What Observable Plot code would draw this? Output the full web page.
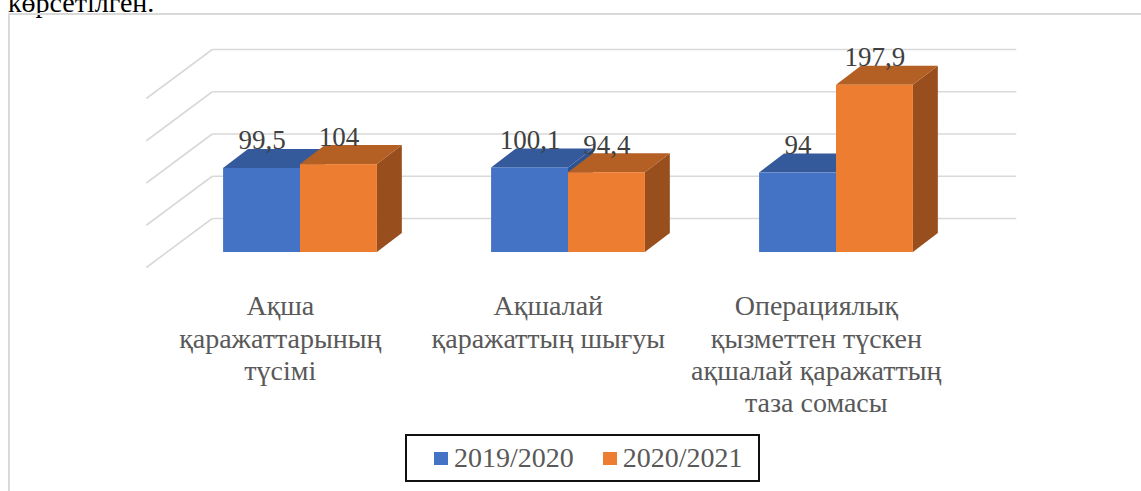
<!DOCTYPE html>
<html>
<head>
<meta charset="utf-8">
<script src="https://cdn.jsdelivr.net/npm/d3@7"></script>
<script src="https://cdn.jsdelivr.net/npm/@observablehq/plot@0.6"></script>
<style>
html, body { margin: 0; padding: 0; width: 1141px; height: 491px; overflow: hidden; background: #fff; }
#page { position: relative; width: 1141px; height: 491px; overflow: hidden; }
#prev { position: absolute; left: 8px; top: -11px; font: 28px/28px "Liberation Serif", serif; color: #000; white-space: nowrap; }
#frame { position: absolute; left: 8px; top: 13px; width: 1200px; height: 600px; border: 2px solid #d9d9d9; }
#chart { position: absolute; left: 0; top: 0; }
#chart svg text { font-family: "Liberation Serif", serif; }
#legend { position: absolute; left: 405px; top: 434px; box-sizing: border-box; width: 355px; height: 48px;
  border: 2px solid #111; display: flex; align-items: center; padding-left: 27px;
  font: 28px "Liberation Serif", serif; color: #595959; background: #fff; }
#legend .sw { width: 14px; height: 13px; margin-right: 6px; flex: none; }
#legend .lab { margin-right: 29px; white-space: nowrap; }
</style>
</head>
<body>
<div id="page">
  <div id="prev">көрсетілген.</div>
  <div id="frame"></div>
  <div id="chart"></div>
  <div id="legend"></div>
</div>
<script>
// ---- data ----
const categories = [
  "Ақша\nқаражаттарының\nтүсімі",
  "Ақшалай\nқаражаттың шығуы",
  "Операциялық\nқызметтен түскен\nақшалай қаражаттың\nтаза сомасы"
];
const series = ["2019/2020", "2020/2021"];
const values2019 = [99.5, 100.1, 94];
const values2020 = [104, 94.4, 197.9];
const gridTicks = [0, 50, 100, 150, 200];

// ---- styles / geometry (not data) ----
const SERIF = "'Liberation Serif', serif";
const frontColors = ["#4472C4", "#ED7D31"];
const topColors = ["#345a9c", "#b45f23"];
const sideColors = ["#2f5391", "#984e1d"];
const BAR_W = 0.287;            // bar width in category units
const DX = 0.246, DY = 58;      // full floor depth, in x / value units
const BACK = 0.694, FRONT = -0.306; // back wall and floor front relative to bar front plane
const BAR_DX = 0.093, BAR_DY = 22.5; // bar depth

const fmt = v => String(v).replace(".", ",");
const seriesValues = [values2019, values2020];

const bars = categories.flatMap((c, i) => series.map((s, j) => ({
  key: i + "-" + j, i, j, s, v: seriesValues[j][i],
  x1: i + (j - 1) * BAR_W, x2: i + j * BAR_W
})));

function topFace(b) {
  return [
    {k: b.key, x1: b.x1, y1: b.v, x2: b.x1 + BAR_DX, y2: b.v + BAR_DY},
    {k: b.key, x1: b.x2, y1: b.v, x2: b.x2 + BAR_DX, y2: b.v + BAR_DY}
  ];
}
function sideFace(b) {
  return [
    {k: b.key, x1: b.x2, y1: 0, x2: b.x2, y2: b.v},
    {k: b.key, x1: b.x2 + BAR_DX, y1: BAR_DY, x2: b.x2 + BAR_DX, y2: b.v + BAR_DY}
  ];
}

const gridRows = gridTicks.map(v => ({v}));

const barMarks = series.flatMap((s, j) => {
  const bs = bars.filter(b => b.j === j);
  return [
    Plot.area(bs.flatMap(sideFace), {x1: "x1", y1: "y1", x2: "x2", y2: "y2", z: "k", fill: sideColors[j]}),
    Plot.area(bs.flatMap(topFace), {x1: "x1", y1: "y1", x2: "x2", y2: "y2", z: "k", fill: topColors[j]}),
    Plot.rect(bs, {x1: "x1", x2: "x2", y1: () => 0, y2: "v", fill: frontColors[j], inset: 0})
  ];
});

const chart = Plot.plot({
  width: 1141,
  height: 430,
  marginLeft: 166,
  marginRight: 171,
  marginTop: 83,
  marginBottom: 178,
  x: {domain: [-0.5, 2.5], axis: null},
  y: {domain: [0, 200], axis: null},
  style: {fontFamily: SERIF, background: "transparent", overflow: "visible"},
  marks: [
    // back wall gridlines
    Plot.link(gridRows, {
      x1: () => -0.5 + BACK * DX, x2: () => 2.5 + BACK * DX,
      y1: d => d.v + BACK * DY, y2: d => d.v + BACK * DY,
      stroke: "#d9d9d9", strokeWidth: 1.6
    }),
    // side wall gridlines
    Plot.link(gridRows, {
      x1: () => -0.5 + BACK * DX, y1: d => d.v + BACK * DY,
      x2: () => -0.5 + FRONT * DX, y2: d => d.v + FRONT * DY,
      stroke: "#d9d9d9", strokeWidth: 1.6
    }),
    ...barMarks,
    // value labels
    Plot.text(bars, {
      x: d => (d.x1 + d.x2) / 2, y: d => d.v + BAR_DY, text: d => fmt(d.v),
      lineAnchor: "bottom", fontSize: 27, fontFamily: SERIF, fill: "#404040"
    }),
    // category labels
    Plot.text(categories, {
      x: (d, i) => i + FRONT * DX, y: () => 0, text: d => d,
      lineAnchor: "top", dy: 40, fontSize: 28, fontFamily: SERIF, lineHeight: 1.155, fill: "#595959"
    })
  ]
});
document.getElementById("chart").appendChild(chart);

// legend
const legend = d3.select("#legend");
series.forEach((s, j) => {
  legend.append("div").attr("class", "sw").style("background", frontColors[j]);
  legend.append("div").attr("class", "lab").text(s);
});
</script>
</body>
</html>
